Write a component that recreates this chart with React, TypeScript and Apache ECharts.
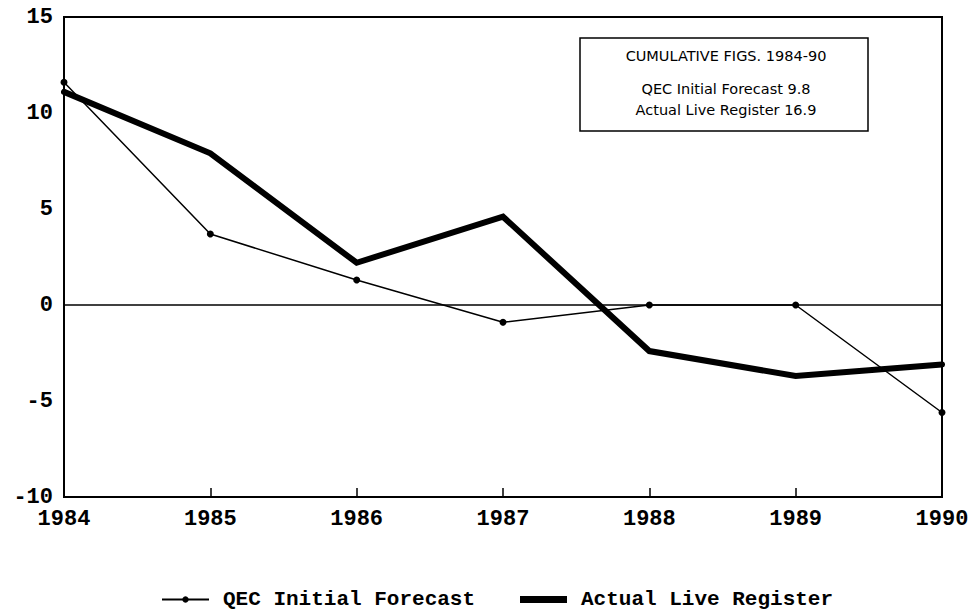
import React, { useEffect, useRef } from "react";
import * as echarts from "echarts";

const years = ["1984", "1985", "1986", "1987", "1988", "1989", "1990"];
const qecForecast = [11.6, 3.7, 1.3, -0.9, 0, 0, -5.6];
const actualLiveRegister = [11.1, 7.9, 2.2, 4.6, -2.4, -3.7, -3.1];
const yMin = -10;
const yMax = 15;
const yInterval = 5;
const seriesNames = ["QEC Initial Forecast", "Actual Live Register"];
const boxLines = [
  "CUMULATIVE FIGS. 1984-90",
  "QEC Initial Forecast 9.8",
  "Actual Live Register 16.9",
];

export default function App() {
  const ref = useRef<HTMLDivElement>(null);

  useEffect(() => {
    const chart = echarts.init(ref.current!, null, { renderer: "svg" });
    const axisFont = "'Liberation Mono', monospace";
    const boxFont = "'DejaVu Sans', sans-serif";
    const boxText = (text: string, y: number) => ({
      type: "text",
      x: 726,
      y,
      style: {
        text,
        fill: "#000",
        fontFamily: boxFont,
        fontSize: 14.5,
        align: "center",
        verticalAlign: "middle",
      },
      z: 11,
    });
    chart.setOption({
      animation: false,
      backgroundColor: "#ffffff",
      grid: {
        left: 64,
        right: 34,
        top: 17,
        bottom: 116,
        show: true,
        borderColor: "#000",
        borderWidth: 2,
        backgroundColor: "transparent",
      },
      xAxis: {
        type: "category",
        data: years,
        boundaryGap: false,
        axisLine: { onZero: false, lineStyle: { color: "#000", width: 2 } },
        axisTick: {
          inside: true,
          length: 9,
          alignWithLabel: true,
          lineStyle: { color: "#000", width: 1.5 },
        },
        axisLabel: {
          color: "#000",
          fontFamily: axisFont,
          fontWeight: "bold",
          fontSize: 22,
          margin: 11,
          interval: 0,
        },
        splitLine: { show: false },
      },
      yAxis: {
        type: "value",
        min: yMin,
        max: yMax,
        interval: yInterval,
        axisLine: { show: true, lineStyle: { color: "#000", width: 2 } },
        axisTick: { show: false },
        splitLine: { show: false },
        axisLabel: {
          color: "#000",
          fontFamily: axisFont,
          fontWeight: "bold",
          fontSize: 22,
          margin: 11,
        },
      },
      legend: [
        {
          data: [seriesNames[0]],
          left: 156,
          top: 584,
          itemWidth: 47,
          itemHeight: 8,
          textStyle: {
            color: "#000",
            fontFamily: axisFont,
            fontWeight: "bold",
            fontSize: 21,
            padding: [0, 0, 0, 9],
          },
        },
        {
          data: [{ name: seriesNames[1], icon: "rect" }],
          left: 515,
          top: 584,
          itemWidth: 47,
          itemHeight: 7,
          textStyle: {
            color: "#000",
            fontFamily: axisFont,
            fontWeight: "bold",
            fontSize: 21,
            padding: [0, 0, 0, 9],
          },
        },
      ],
      series: [
        {
          name: seriesNames[0],
          type: "line",
          data: qecForecast,
          symbol: "circle",
          symbolSize: 7,
          showAllSymbol: true,
          color: "#000",
          lineStyle: { color: "#000", width: 1.5 },
          itemStyle: { color: "#000" },
          z: 2,
          markLine: {
            silent: true,
            symbol: ["none", "none"],
            label: { show: false },
            lineStyle: { color: "#000", type: "solid", width: 1.5 },
            data: [{ yAxis: 0 }],
          },
        },
        {
          name: seriesNames[1],
          type: "line",
          data: actualLiveRegister,
          symbol: "none",
          color: "#000",
          lineStyle: { color: "#000", width: 6, cap: "round", join: "miter" },
          itemStyle: { color: "#000" },
          z: 3,
        },
      ],
      graphic: [
        {
          type: "rect",
          x: 580,
          y: 38,
          shape: { x: 0, y: 0, width: 288, height: 93 },
          style: { fill: "#fff", stroke: "#000", lineWidth: 1.5 },
          z: 10,
        },
        boxText(boxLines[0], 56),
        boxText(boxLines[1], 89),
        boxText(boxLines[2], 110),
      ],
    });
    return () => chart.dispose();
  }, []);

  return (
    <div
      ref={ref}
      style={{ position: "absolute", left: 0, top: 0, width: 976, height: 613 }}
    />
  );
}
